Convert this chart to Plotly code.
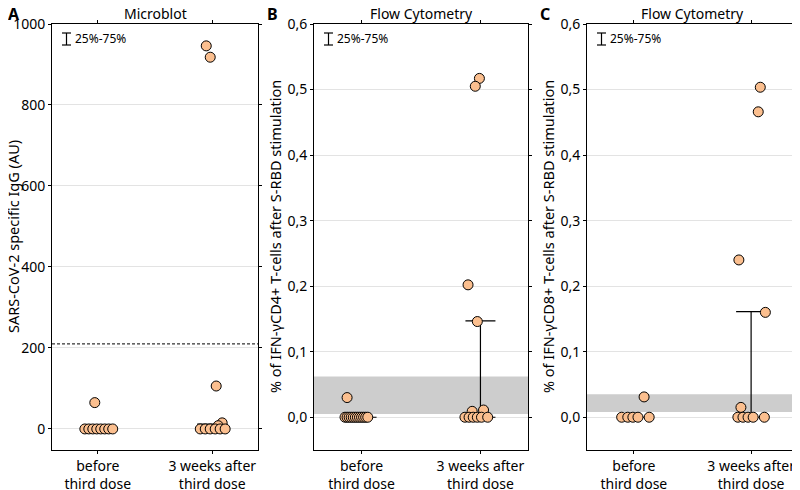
import plotly.graph_objects as go

## Data (values, beeswarm offsets in px)
categories = ["before<br>third dose", "3 weeks after<br>third dose"]

a_before = [65, 0, 0, 0, 0, 0, 0, 0, 0]
a_before_dx = [-3, -13, -9, -5, -1, 3, 7, 11, 15]
a_after = [946, 918, 106, 15, 8, 0, 0, 0, 0, 0, 0]
a_after_dx = [-6, -2, 4, 10, 6, -12, -7, -2, 3, 8, 13]

b_before = [0.030] + [0.0] * 12
b_before_dx = [-14, -16, -14, -12, -10, -8, -6, -4, -2, 0, 2, 4, 6]
b_after = [0.517, 0.505, 0.202, 0.146, 0.009, 0.011, 0, 0, 0, 0, 0, 0]
b_after_dx = [-1, -5, -12, -3, -8, 3, -15, -11, -7, -3, 1, 7]

c_before = [0.031, 0, 0, 0, 0, 0]
c_before_dx = [10, -12, -6, -1, 4, 15]
c_after = [0.5035, 0.466, 0.240, 0.160, 0.015, 0, 0, 0, 0, 0]
c_after_dx = [9, 7, -12, 14, -10, -13, -8, -3, 2, 13]

# interquartile ranges (25%-75%) per group
a_q = [(0, 0), (0, 12)]
b_q = [(0, 0), (0, 0.147)]
c_q = [(0, 0), (0, 0.161)]

# reference bands / cutoff
a_cutoff = 210
b_band = (0.005, 0.062)
c_band = (0.008, 0.035)

titles = ["Microblot", "Flow Cytometry", "Flow Cytometry"]
letters = ["A", "B", "C"]
ytitles = ["SARS-CoV-2 specific IgG (AU)",
           "% of IFN-γCD4+ T-cells after S-RBD stimulation",
           "% of IFN-γCD8+ T-cells after S-RBD stimulation"]
a_ticks = [0, 200, 400, 600, 800, 1000]
flow_ticks = [0, 0.1, 0.2, 0.3, 0.4, 0.5, 0.6]
flow_ticktext = ["0,0", "0,1", "0,2", "0,3", "0,4", "0,5", "0,6"]

##
FONT = "Noto Sans"
PEACH = "#FBBF8F"
PX_PER_UNIT = 115.0
OFF = 8  # page body margin
W, H = 800 - OFF, 490 - OFF


def px_x(x):
    return (x - OFF) / W


def px_y(y):
    return 1 - (y - OFF) / H


x_domains = [(52, 258), (314, 528), (587, 798)]
letter_x = [14, 272, 545]
y_top, y_bot = 24, 450
ydom = [px_y(y_bot), px_y(y_top)]

fig = go.Figure()

panels = [
    (a_before, a_before_dx, a_after, a_after_dx, a_q),
    (b_before, b_before_dx, b_after, b_after_dx, b_q),
    (c_before, c_before_dx, c_after, c_after_dx, c_q),
]

for i, (yb, dxb, ya, dxa, q) in enumerate(panels):
    sfx = "" if i == 0 else str(i + 1)
    xa, ya_ref = "x" + sfx, "y" + sfx
    # IQR bars first, points on top
    for k, (lo, hi) in enumerate(q):
        fig.add_trace(go.Scatter(
            x=[k + 1], y=[lo], mode="markers", marker=dict(size=1, opacity=0),
            error_y=dict(type="data", symmetric=False, array=[hi - lo], arrayminus=[0],
                         color="black", thickness=1.2, width=15),
            xaxis=xa, yaxis=ya_ref, showlegend=False, hoverinfo="skip"))
    for k, (vals, dx) in enumerate([(yb, dxb), (ya, dxa)]):
        fig.add_trace(go.Scatter(
            x=[k + 1 + d / PX_PER_UNIT for d in dx], y=vals, mode="markers",
            marker=dict(size=10, color=PEACH, line=dict(color="black", width=1)),
            xaxis=xa, yaxis=ya_ref, showlegend=False))

axis_common = dict(showline=True, linecolor="black", linewidth=1, mirror="allticks",
                   ticks="outside", ticklen=3, tickcolor="black",
                   tickfont=dict(family=FONT, size=14, color="black"), automargin=False)

layout = dict(width=W, height=H, margin=dict(l=0, r=0, t=0, b=0),
              plot_bgcolor="white", paper_bgcolor="white",
              font=dict(family=FONT, color="black"))

annotations = []
shapes = []
for i in range(3):
    sfx = "" if i == 0 else str(i + 1)
    x0, x1 = x_domains[i]
    layout["xaxis" + sfx] = dict(axis_common, domain=[px_x(x0), px_x(x1)], range=[0.6, 2.4],
                                 tickvals=[1, 2], ticktext=categories, showgrid=False,
                                 zeroline=False, anchor="y" + sfx)
    if i == 0:
        yax = dict(range=[-52, 1000], tickvals=a_ticks)
    else:
        yax = dict(range=[-0.05, 0.6], tickvals=flow_ticks, ticktext=flow_ticktext)
    layout["yaxis" + sfx] = dict(axis_common, domain=ydom, showgrid=True, gridcolor="#E3E3E3",
                                 gridwidth=1, zeroline=False, anchor="x" + sfx, **yax)
    # panel title and letter
    annotations.append(dict(text=titles[i], x=px_x((x0 + x1) / 2), y=px_y(14), xref="paper",
                            yref="paper", xanchor="center", yanchor="middle", showarrow=False,
                            font=dict(size=14, family=FONT)))
    annotations.append(dict(text="<b>" + letters[i] + "</b>", x=px_x(letter_x[i]), y=px_y(14),
                            xref="paper", yref="paper", xanchor="center", yanchor="middle",
                            showarrow=False, font=dict(size=16, family=FONT)))
    annotations.append(dict(text=ytitles[i], x=px_x(x0 - 39), y=(ydom[0] + ydom[1]) / 2,
                            xref="paper", yref="paper", showarrow=False, textangle=-90,
                            xanchor="center", yanchor="middle",
                            font=dict(size=14.5, family=FONT)))
    # 25%-75% key
    xd, yd = "x" + sfx + " domain", "y" + sfx + " domain"
    kx0, kx1 = 10 / (x1 - x0), 19 / (x1 - x0)
    ky0, ky1 = 1 - 21 / (y_bot - y_top), 1 - 9 / (y_bot - y_top)
    line = dict(color="black", width=1.2)
    shapes += [
        dict(type="line", xref=xd, yref=yd, x0=(kx0 + kx1) / 2, x1=(kx0 + kx1) / 2, y0=ky0, y1=ky1, line=line),
        dict(type="line", xref=xd, yref=yd, x0=kx0, x1=kx1, y0=ky0, y1=ky0, line=line),
        dict(type="line", xref=xd, yref=yd, x0=kx0, x1=kx1, y0=ky1, y1=ky1, line=line),
    ]
    annotations.append(dict(text="25%-75%", x=kx1 + 2 / (x1 - x0), y=(ky0 + ky1) / 2, xref=xd,
                            yref=yd, xanchor="left", yanchor="middle", showarrow=False,
                            font=dict(size=12, family=FONT)))

# cutoff line (A) and grey reference bands (B, C)
shapes.append(dict(type="line", xref="x domain", yref="y", x0=0, x1=1, y0=a_cutoff, y1=a_cutoff,
                   line=dict(color="black", width=1, dash="3px,2px")))
for sfx, band in [("2", b_band), ("3", c_band)]:
    shapes.append(dict(type="rect", xref="x" + sfx + " domain", yref="y" + sfx, x0=0, x1=1,
                       y0=band[0], y1=band[1], fillcolor="#CDCDCD", line=dict(width=0),
                       layer="below"))

layout["annotations"] = annotations
layout["shapes"] = shapes
fig.update_layout(**layout)

fig.write_html("out.html")
